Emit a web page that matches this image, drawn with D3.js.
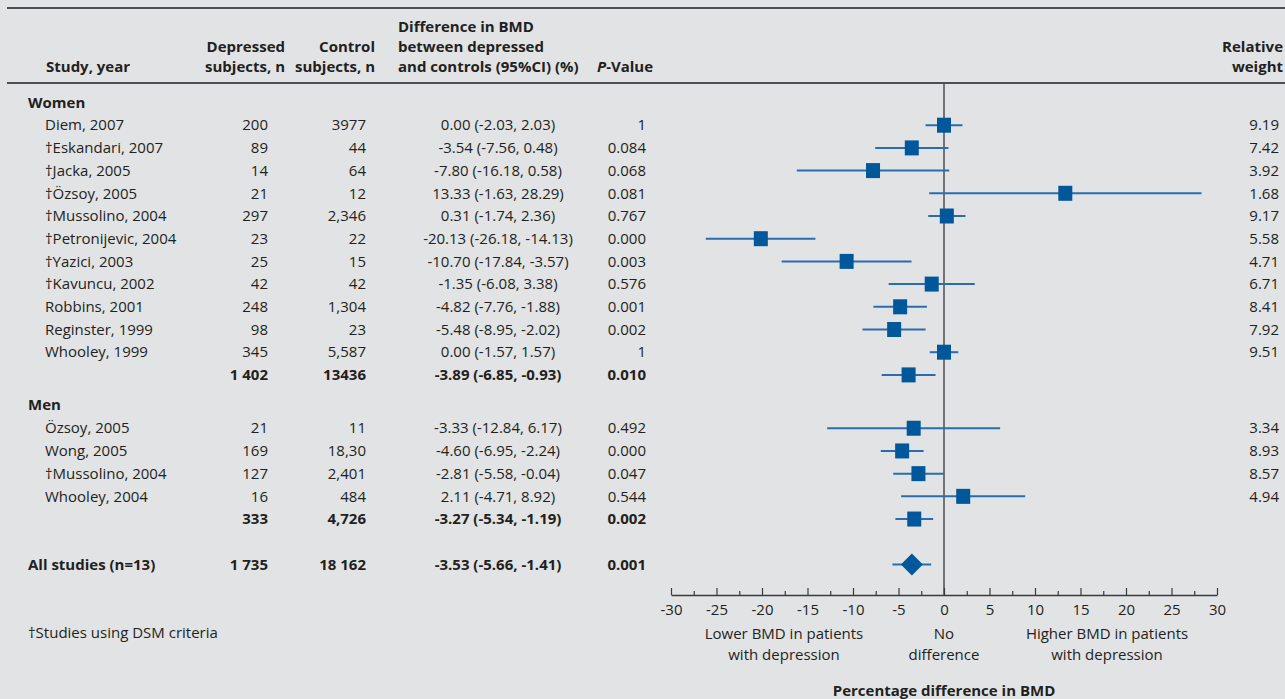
<!DOCTYPE html>
<html>
<head>
<meta charset="utf-8">
<script src="https://cdn.jsdelivr.net/npm/d3@7"></script>
<style>
  html, body { margin: 0; padding: 0; background: #e2e3e5; }
  svg { display: block; }
  text { font-family: "Open Sans", "Noto Sans", sans-serif; fill: #231f20; }
</style>
</head>
<body>
<svg id="chart" width="1285" height="699"></svg>
<script>
// ---------------- DATA ----------------
const rowLabels = [
  "Women",
  "Diem, 2007", "†Eskandari, 2007", "†Jacka, 2005", "†Özsoy, 2005", "†Mussolino, 2004",
  "†Petronijevic, 2004", "†Yazici, 2003", "†Kavuncu, 2002", "Robbins, 2001",
  "Reginster, 1999", "Whooley, 1999",
  "",
  "Men",
  "Özsoy, 2005", "Wong, 2005", "†Mussolino, 2004", "Whooley, 2004",
  "",
  "All studies (n=13)"
];
const rowKinds = [
  "group",
  "study", "study", "study", "study", "study", "study", "study", "study", "study", "study", "study",
  "subtotal",
  "group",
  "study", "study", "study", "study",
  "subtotal",
  "overall"
];
const rowSlots = [0, 1, 2, 3, 4, 5, 6, 7, 8, 9, 10, 11, 12, 13.3, 14.35, 15.35, 16.35, 17.35, 18.35, 20.35];
const depressedN = ["", "200", "89", "14", "21", "297", "23", "25", "42", "248", "98", "345", "1 402",
  "", "21", "169", "127", "16", "333", "1 735"];
const controlN = ["", "3977", "44", "64", "12", "2,346", "22", "15", "42", "1,304", "23", "5,587", "13436",
  "", "11", "18,30", "2,401", "484", "4,726", "18 162"];
const estimate = [null, 0.00, -3.54, -7.80, 13.33, 0.31, -20.13, -10.70, -1.35, -4.82, -5.48, 0.00, -3.89,
  null, -3.33, -4.60, -2.81, 2.11, -3.27, -3.53];
const ciLow = [null, -2.03, -7.56, -16.18, -1.63, -1.74, -26.18, -17.84, -6.08, -7.76, -8.95, -1.57, -6.85,
  null, -12.84, -6.95, -5.58, -4.71, -5.34, -5.66];
const ciHigh = [null, 2.03, 0.48, 0.58, 28.29, 2.36, -14.13, -3.57, 3.38, -1.88, -2.02, 1.57, -0.93,
  null, 6.17, -2.24, -0.04, 8.92, -1.19, -1.41];
const pValues = ["", "1", "0.084", "0.068", "0.081", "0.767", "0.000", "0.003", "0.576", "0.001", "0.002", "1", "0.010",
  "", "0.492", "0.000", "0.047", "0.544", "0.002", "0.001"];
const weights = ["", "9.19", "7.42", "3.92", "1.68", "9.17", "5.58", "4.71", "6.71", "8.41", "7.92", "9.51", "",
  "", "3.34", "8.93", "8.57", "4.94", "", ""];
const axisTicks = [-30, -25, -20, -15, -10, -5, 0, 5, 10, 15, 20, 25, 30];
const minorTicks = [-27.5, -22.5, -17.5, -12.5, -7.5, -2.5, 2.5, 7.5, 12.5, 17.5, 22.5, 27.5];

// ---------------- LAYOUT ----------------
const svg = d3.select("#chart");
const FS = 15;
const ink = "#231f20";
const lineCol = "#4e4f52";
const markCol = "#00589b";
const ciCol = "#2b6cae";

const x = d3.scaleLinear().domain([-30, 30]).range([671, 1217]);
const y = d3.scaleLinear().domain([0, 1]).range([102.5, 125.2]);
const axisY = 595;

const fmt = v => v.toFixed(2);

// top rules
svg.append("line").attr("x1", 7).attr("x2", 1285).attr("y1", 8).attr("y2", 8)
  .attr("stroke", lineCol).attr("stroke-width", 2);
svg.append("line").attr("x1", 7).attr("x2", 1285).attr("y1", 83).attr("y2", 83)
  .attr("stroke", lineCol).attr("stroke-width", 2);

// headers
const hdr = svg.append("g").attr("font-weight", "bold").attr("font-size", FS);
function hline(txt, xx, yy, anchor) {
  return hdr.append("text").attr("x", xx).attr("y", yy).attr("text-anchor", anchor).text(txt);
}
hline("Study, year", 46, 72, "start");
hline("Depressed", 285, 52, "end");
hline("subjects, n", 285, 72, "end");
hline("Control", 375, 52, "end");
hline("subjects, n", 375, 72, "end");
hline("Difference in BMD", 398, 32, "start");
hline("between depressed", 398, 52, "start");
hline("and controls (95%CI) (%)", 398, 72, "start");
const pv = hdr.append("text").attr("x", 597).attr("y", 72).attr("text-anchor", "start");
pv.append("tspan").attr("font-style", "italic").text("P");
pv.append("tspan").text("-Value");
hline("Relative", 1283, 52, "end");
hline("weight", 1283, 72, "end");

// zero line
svg.append("line").attr("x1", x(0)).attr("x2", x(0)).attr("y1", 83).attr("y2", axisY)
  .attr("stroke", "#555659").attr("stroke-width", 1.6);

// rows
const rows = rowLabels.map((label, i) => ({
  label, kind: rowKinds[i], slot: rowSlots[i], dep: depressedN[i], con: controlN[i],
  est: estimate[i], lo: ciLow[i], hi: ciHigh[i], p: pValues[i], w: weights[i]
}));

const rowG = svg.append("g").attr("font-size", FS);
rows.forEach(r => {
  const yy = y(r.slot);
  const bold = r.kind !== "study";
  const g = rowG.append("g").attr("font-weight", bold ? "bold" : "normal");
  if (r.label) {
    g.append("text").attr("x", r.kind === "study" ? 45 : 28).attr("y", yy).attr("dy", "0.35em").text(r.label);
  }
  if (r.kind === "group") return;
  g.append("text").attr("x", 268).attr("y", yy).attr("dy", "0.35em").attr("text-anchor", "end").text(r.dep);
  g.append("text").attr("x", 366).attr("y", yy).attr("dy", "0.35em").attr("text-anchor", "end").text(r.con);
  g.append("text").attr("x", 498).attr("y", yy).attr("dy", "0.35em").attr("text-anchor", "middle")
    .text(`${fmt(r.est)} (${fmt(r.lo)}, ${fmt(r.hi)})`);
  g.append("text").attr("x", 646).attr("y", yy).attr("dy", "0.35em").attr("text-anchor", "end").text(r.p);
  if (r.w) {
    rowG.append("text").attr("x", 1279).attr("y", yy).attr("dy", "0.35em").attr("text-anchor", "end").text(r.w);
  }
});

// CI lines and markers
const plotRows = rows.filter(r => r.est !== null);
svg.append("g").selectAll("line").data(plotRows).join("line")
  .attr("x1", d => x(d.lo)).attr("x2", d => x(d.hi))
  .attr("y1", d => y(d.slot)).attr("y2", d => y(d.slot))
  .attr("stroke", ciCol).attr("stroke-width", 2);

const sqW = 14, sqH = 15;
svg.append("g").selectAll("rect").data(plotRows.filter(d => d.kind !== "overall")).join("rect")
  .attr("x", d => x(d.est) - sqW / 2).attr("y", d => y(d.slot) - sqH / 2)
  .attr("width", sqW).attr("height", sqH)
  .attr("fill", markCol);

svg.append("g").selectAll("path").data(plotRows.filter(d => d.kind === "overall")).join("path")
  .attr("d", d => {
    const cx = x(d.est), cy = y(d.slot);
    return `M${cx - 11},${cy}L${cx},${cy - 11}L${cx + 11},${cy}L${cx},${cy + 11}Z`;
  })
  .attr("fill", markCol);

// axis
const axisG = svg.append("g").attr("transform", `translate(0,${axisY})`);
axisG.call(d3.axisBottom(x).tickValues(axisTicks).tickSizeInner(-7).tickSizeOuter(0).tickPadding(9)
  .tickFormat(d => String(d)));
axisG.selectAll("path.domain").attr("stroke", "#3a3b3e").attr("stroke-width", 1.4);
axisG.selectAll(".tick line").attr("stroke", "#3a3b3e").attr("stroke-width", 1.2);
axisG.selectAll(".tick text").attr("font-size", FS).attr("font-family", "Open Sans, sans-serif").attr("fill", ink);

const minorG = svg.append("g").attr("transform", `translate(0,${axisY})`);
minorG.call(d3.axisBottom(x).tickValues(minorTicks).tickSizeInner(-4).tickSizeOuter(0).tickFormat(""));
minorG.select("path.domain").remove();
minorG.selectAll(".tick line").attr("stroke", "#3a3b3e").attr("stroke-width", 1.2);

// axis annotations
const ann = svg.append("g").attr("font-size", FS).attr("text-anchor", "middle");
ann.append("text").attr("x", 784).attr("y", 639).text("Lower BMD in patients");
ann.append("text").attr("x", 784).attr("y", 660).text("with depression");
ann.append("text").attr("x", x(0)).attr("y", 639).text("No");
ann.append("text").attr("x", x(0)).attr("y", 660).text("difference");
ann.append("text").attr("x", 1107).attr("y", 639).text("Higher BMD in patients");
ann.append("text").attr("x", 1107).attr("y", 660).text("with depression");
ann.append("text").attr("x", x(0)).attr("y", 696).attr("font-weight", "bold").text("Percentage difference in BMD");

// footnote
svg.append("text").attr("x", 28).attr("y", 638).attr("font-size", FS).text("†Studies using DSM criteria");
</script>
</body>
</html>
